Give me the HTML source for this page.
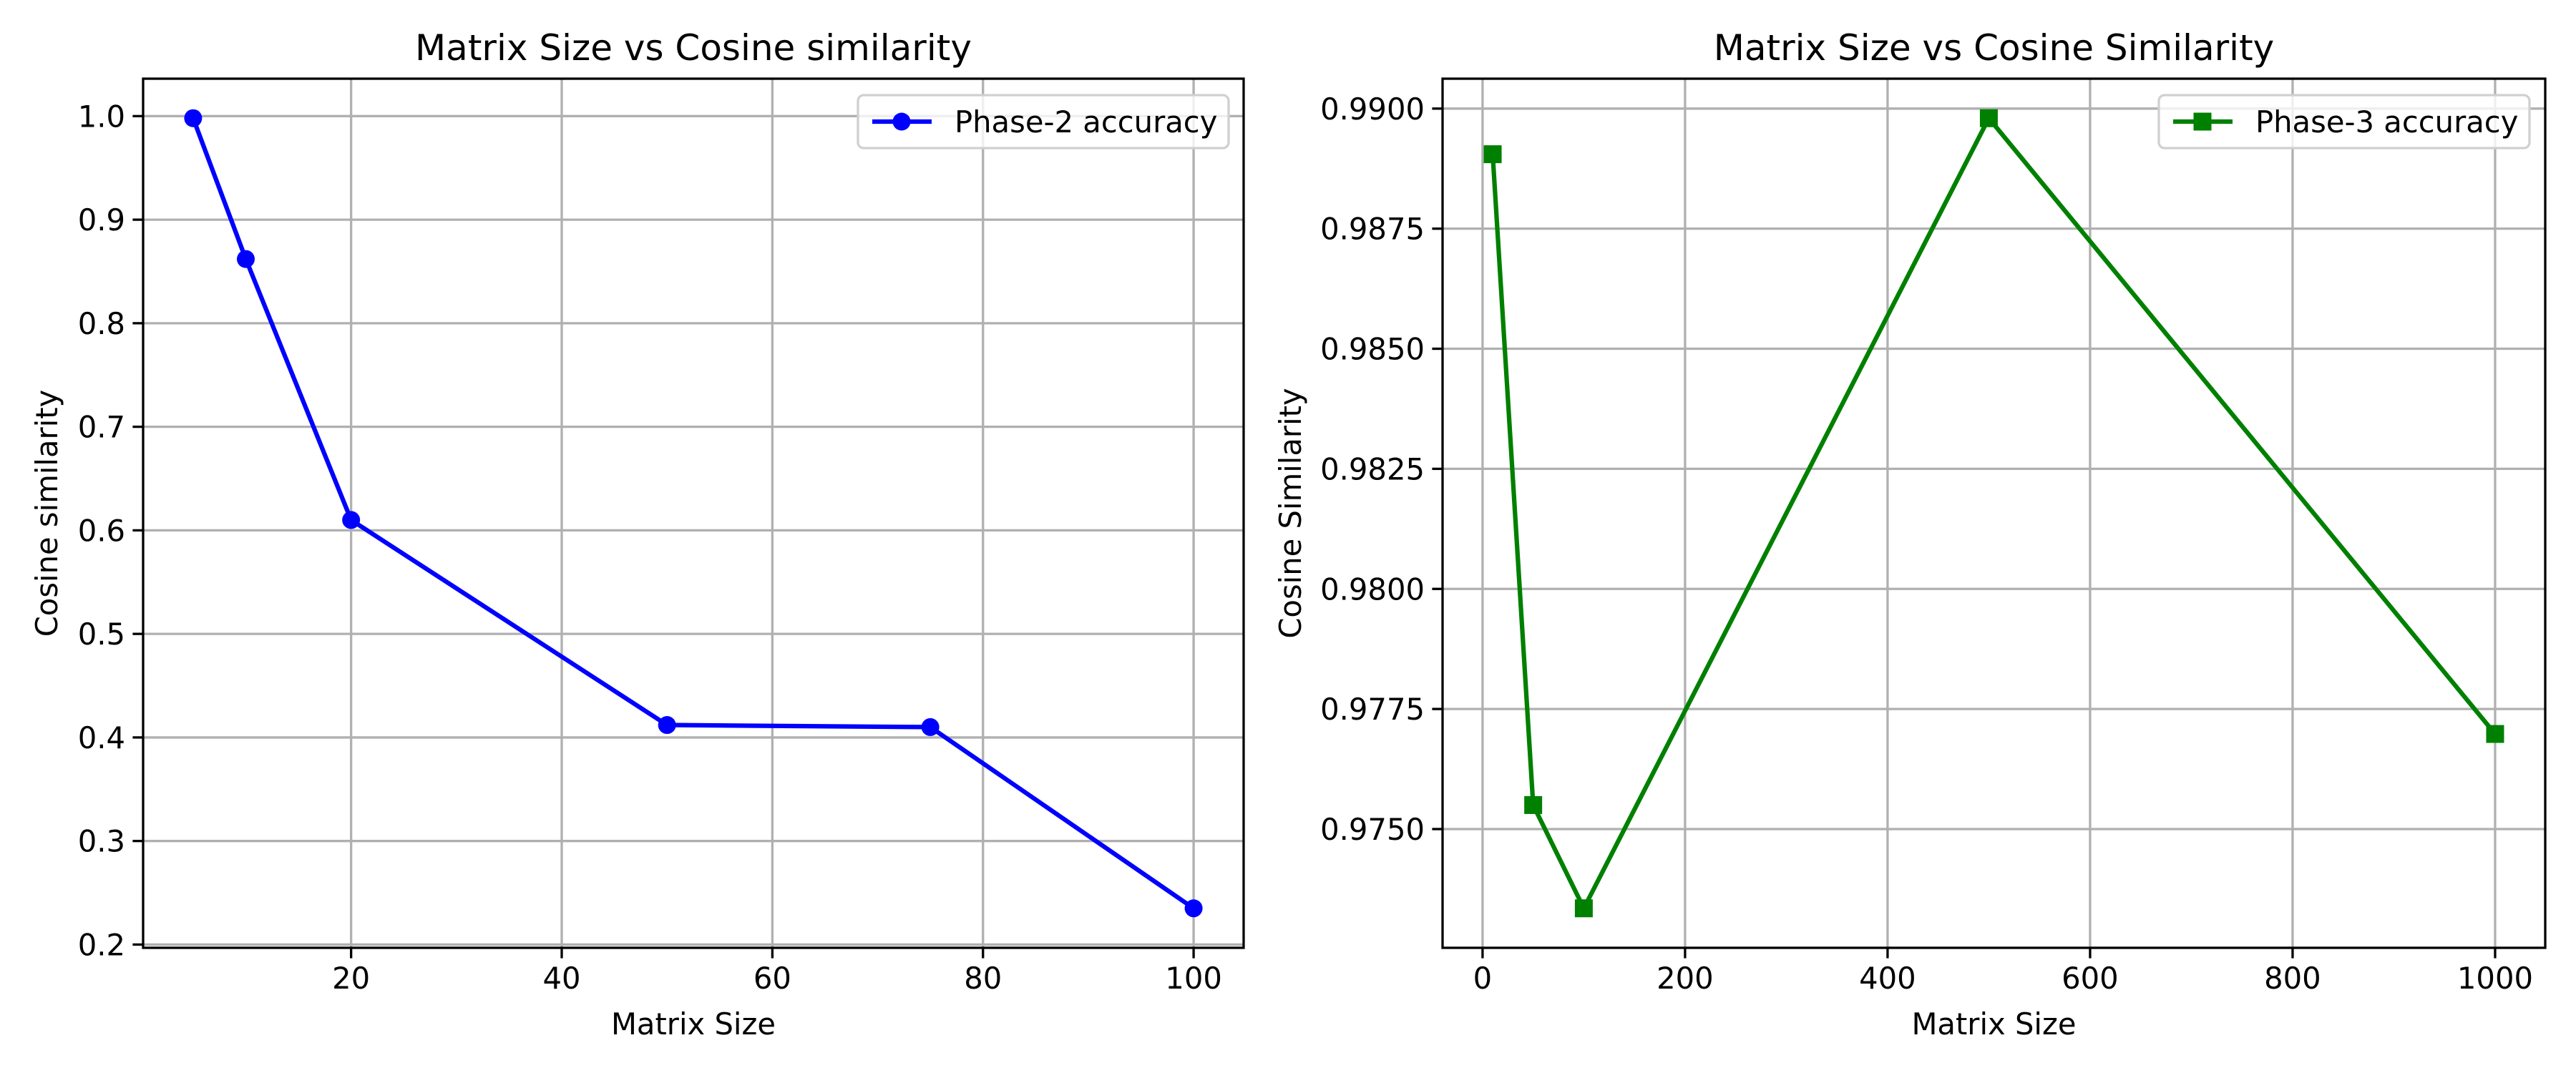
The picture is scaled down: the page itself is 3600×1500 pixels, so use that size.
<!DOCTYPE html>
<html><head><meta charset="utf-8"><style>
html,body{margin:0;padding:0;background:#fff;}
svg{display:block;font-family:"DejaVu Sans","Liberation Sans",sans-serif;}
</style></head><body>
<svg id="fig" width="3600" height="1500" viewBox="0 0 3600 1500"></svg>
<script>
const leftSizes=[5,10,20,50,75,100];
const leftValues=[0.998,0.862,0.610,0.412,0.410,0.235];
const leftXTicks=[20,40,60,80,100];
const leftYTicks=[0.2,0.3,0.4,0.5,0.6,0.7,0.8,0.9,1.0];
const rightSizes=[10,50,100,500,1000];
const rightValues=[0.98905,0.97550,0.97335,0.98980,0.97698];
const rightXTicks=[0,200,400,600,800,1000];
const rightYTicks=[0.9750,0.9775,0.9800,0.9825,0.9850,0.9875,0.9900];

const NS='http://www.w3.org/2000/svg';
const svg=document.getElementById('fig');
function el(tag,attrs,parent){const e=document.createElementNS(NS,tag);for(const k in attrs)e.setAttribute(k,attrs[k]);(parent||svg).appendChild(e);return e;}

function panel(o){
  const g=el('g',{});
  
  
  const xmin=Math.min(...o.xs),xmax=Math.max(...o.xs),ymin=Math.min(...o.ys),ymax=Math.max(...o.ys);
  const xm=(xmax-xmin)*0.05,ym=(ymax-ymin)*0.05;
  const X=v=>o.L+(v-(xmin-xm))/((xmax+xm)-(xmin-xm))*(o.R-o.L);
  const Y=v=>o.B-(v-(ymin-ym))/((ymax+ym)-(ymin-ym))*(o.B-o.T);
  o.xt.forEach(t=>{
    const x=X(t);
    const gl=el('line',{x1:x,x2:x,y1:o.T,y2:o.B,stroke:'#b0b0b0','stroke-width':3.3},g);
    
    el('line',{x1:x,x2:x,y1:o.B,y2:o.B+14.6,stroke:'#000','stroke-width':3.3},g);
    const tx=el('text',{x:x,y:o.B+57,'font-size':41.7,'text-anchor':'middle',fill:'#000'},g);
    tx.textContent=String(t);
    
  });
  o.yt.forEach(t=>{
    const y=Y(t);
    const gl=el('line',{x1:o.L,x2:o.R,y1:y,y2:y,stroke:'#b0b0b0','stroke-width':3.3},g);
    
    el('line',{x1:o.L-14.6,x2:o.L,y1:y,y2:y,stroke:'#000','stroke-width':3.3},g);
    const tx=el('text',{x:o.L-25,y:y+15,'font-size':41.7,'text-anchor':'end',fill:'#000'},g);
    tx.textContent=t.toFixed(o.dec);
    
  });
  const pts=o.xs.map((v,i)=>X(v)+','+Y(o.ys[i])).join(' ');
  const ln=el('polyline',{points:pts,fill:'none',stroke:o.color,'stroke-width':6.25,'stroke-linejoin':'round'},g);
  
  o.xs.forEach((v,i)=>{
    let m;
    if(o.marker==='o') m=el('circle',{cx:X(v),cy:Y(o.ys[i]),r:12.5,fill:o.color},g);
    else m=el('rect',{x:X(v)-12.5,y:Y(o.ys[i])-12.5,width:25,height:25,fill:o.color},g);
    
  });
  const fr=el('rect',{x:o.L,y:o.T,width:o.R-o.L,height:o.B-o.T,fill:'none',stroke:'#000','stroke-width':3.3},g);
  
  const ti=el('text',{x:(o.L+o.R)/2,y:84,'font-size':50,'text-anchor':'middle',fill:'#000'},g);
  ti.textContent=o.title;
  const xl=el('text',{x:(o.L+o.R)/2,y:1446,'font-size':41.7,'text-anchor':'middle',fill:'#000'},g);
  xl.textContent='Matrix Size';
  const yl=el('text',{x:0,y:0,'font-size':41.7,'text-anchor':'middle',fill:'#000',transform:`translate(${o.ylx},${(o.T+o.B)/2}) rotate(-90)`},g);
  yl.textContent=o.ylabel;
  const lg=el('g',{},g);
  
  el('rect',{x:o.lgx,y:133,width:518,height:74,rx:8,fill:'#fff','fill-opacity':0.8,stroke:'#d0d0d0','stroke-width':3.3},lg);
  el('line',{x1:o.lgx+20,x2:o.lgx+103,y1:170,y2:170,stroke:o.color,'stroke-width':6.25},lg);
  if(o.marker==='o') el('circle',{cx:o.lgx+61,cy:170,r:12.5,fill:o.color},lg);
  else el('rect',{x:o.lgx+48.5,y:157.5,width:25,height:25,fill:o.color},lg);
  const lt=el('text',{x:o.lgx+135,y:185,'font-size':41.7,fill:'#000'},lg);
  lt.textContent=o.label;
}
panel({name:'phase2-chart',L:200,R:1738,T:110,B:1325,xs:leftSizes,ys:leftValues,xt:leftXTicks,yt:leftYTicks,dec:1,color:'#0000ff',marker:'o',title:'Matrix Size vs Cosine similarity',ylabel:'Cosine similarity',ylx:80,lgx:1199,label:'Phase-2 accuracy'});
panel({name:'phase3-chart',L:2016,R:3557,T:110,B:1325,xs:rightSizes,ys:rightValues,xt:rightXTicks,yt:rightYTicks,dec:4,color:'#008000',marker:'s',title:'Matrix Size vs Cosine Similarity',ylabel:'Cosine Similarity',ylx:1818,lgx:3017,label:'Phase-3 accuracy'});
</script>
</body></html>
